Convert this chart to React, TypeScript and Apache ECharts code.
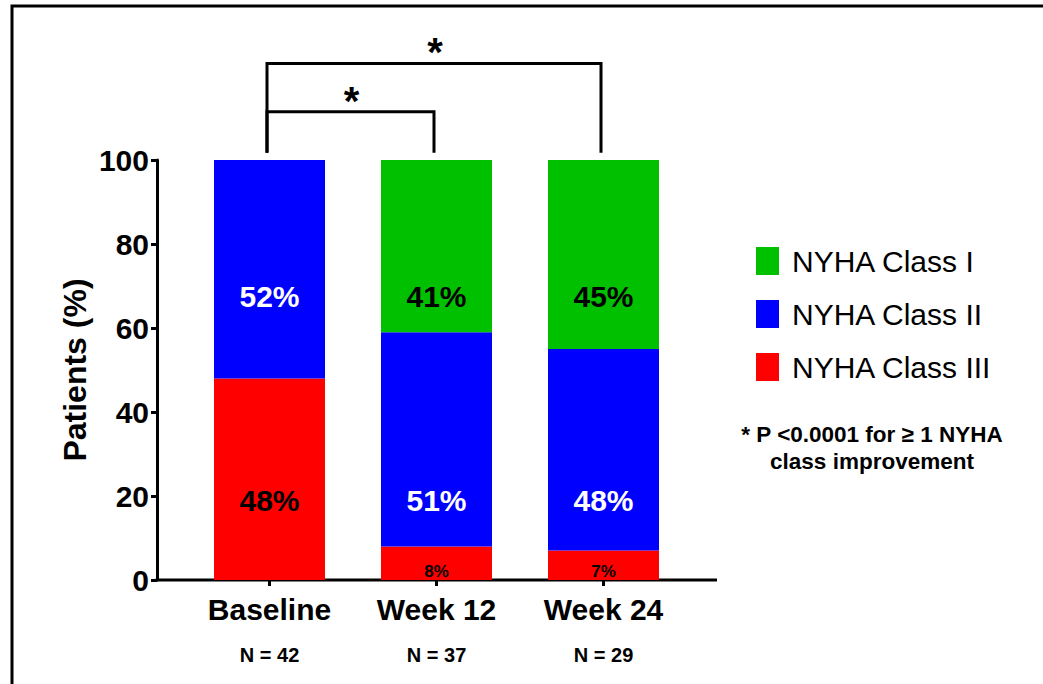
import React, { useEffect, useRef } from "react";
import * as echarts from "echarts";

const categories = ["Baseline", "Week 12", "Week 24"];
const sampleSizes = ["N = 42", "N = 37", "N = 29"];
const seriesNames = ["NYHA Class I", "NYHA Class II", "NYHA Class III"];
const classI = [0, 41, 45];
const classII = [52, 51, 48];
const classIII = [48, 8, 7];
// level (in % units) at which each segment's label is written
const labelAtI = [0, 67.5, 67.5];
const labelAtII = [67.5, 19, 19];
const labelAtIII = [19, 2, 2];
const yMin = 0;
const yMax = 100;
const yStep = 20;
const comparisons = [
  { from: 0, to: 1, top: 111.5, label: "*" },
  { from: 0, to: 2, top: 123, label: "*" },
];
const footnote = ["* P <0.0001 for \u2265 1 NYHA", "class improvement"];

const COLORS = ["#00c000", "#0000ff", "#ff0000"];
const FONT = "'Liberation Sans', Arial, Helvetica, sans-serif";

export default function App() {
  const ref = useRef<HTMLDivElement>(null);

  useEffect(() => {
    if (!ref.current) return;
    const chart = echarts.init(ref.current, undefined, { renderer: "svg" });
    const gridTop = 160;
    const gridHeight = 420;
    const pxPerUnit = gridHeight / (yMax - yMin);

    const makeData = (vals: number[], bases: number[], at: number[], textColor: string) =>
      vals.map((v, i) => {
        const center = bases[i] + v / 2;
        const dy = (center - at[i]) * pxPerUnit;
        return {
          value: v,
          label: {
            show: v > 0,
            position: "inside",
            offset: [0, dy],
            formatter: v + "%",
            color: textColor,
            fontSize: v < 10 ? 17 : 30,
            fontWeight: "bold",
            fontFamily: FONT,
          },
        };
      });

    const baseIII = classIII.map(() => 0);
    const baseII = classIII.slice();
    const baseI = classIII.map((v, i) => v + classII[i]);

    const seriesCommon = {
      type: "bar",
      stack: "total",
      barWidth: 111,
    };

    chart.setOption({
      animation: false,
      textStyle: { fontFamily: FONT },
      grid: { left: 186, top: gridTop, width: 501, height: gridHeight },
      legend: {
        data: seriesNames,
        orient: "vertical",
        left: 756,
        top: 246,
        padding: 0,
        icon: "rect",
        itemWidth: 23,
        itemHeight: 28,
        itemGap: 23,
        selectedMode: false,
        textStyle: {
          fontSize: 30,
          color: "#000",
          fontFamily: FONT,
          padding: [0, 0, 0, 8],
        },
      },
      xAxis: {
        type: "category",
        data: categories,
        axisLine: { show: false },
        axisTick: {
          show: true,
          alignWithLabel: true,
          length: 6,
          lineStyle: { color: "#000", width: 3 },
        },
        axisLabel: {
          margin: 9,
          formatter: (v: string, i: number) => `{a|${v}}\n{b|${sampleSizes[i]}}`,
          rich: {
            a: { fontSize: 30, fontWeight: "bold", color: "#000", lineHeight: 40, fontFamily: FONT },
            b: { fontSize: 20, fontWeight: "bold", color: "#000", lineHeight: 52, fontFamily: FONT },
          },
        },
      },
      yAxis: {
        type: "value",
        min: yMin,
        max: yMax,
        interval: yStep,
        offset: 29,
        name: "Patients (%)",
        nameLocation: "middle",
        nameGap: 66,
        nameTextStyle: { fontSize: 32, fontWeight: "bold", color: "#000", fontFamily: FONT },
        splitLine: { show: false },
        axisLine: { show: true, lineStyle: { color: "#000", width: 3 } },
        axisTick: { show: true, length: 6, lineStyle: { color: "#000", width: 3 } },
        axisLabel: { margin: 8, fontSize: 30, fontWeight: "bold", color: "#000", fontFamily: FONT },
      },
      series: [
        {
          ...seriesCommon,
          name: seriesNames[2],
          itemStyle: { color: COLORS[2] },
          data: makeData(classIII, baseIII, labelAtIII, "#000"),
        },
        {
          ...seriesCommon,
          name: seriesNames[1],
          itemStyle: { color: COLORS[1] },
          data: makeData(classII, baseII, labelAtII, "#fff"),
        },
        {
          ...seriesCommon,
          name: seriesNames[0],
          itemStyle: { color: COLORS[0] },
          data: makeData(classI, baseI, labelAtI, "#000"),
        },
      ],
    });

    const px = (c: number, v: number) =>
      chart.convertToPixel({ xAxisIndex: 0, yAxisIndex: 0 }, [c, v]) as number[];

    const graphics: any[] = [];
    graphics.push({
      type: "rect",
      silent: true,
      shape: { x: 12, y: 6, width: 1100, height: 760 },
      style: { fill: "none", stroke: "#000", lineWidth: 3 },
    });
    const origin = px(0, yMin);
    const yAxisX = 157;
    graphics.push({
      type: "line",
      silent: true,
      shape: { x1: yAxisX - 1.5, y1: origin[1], x2: 717, y2: origin[1] },
      style: { stroke: "#000", lineWidth: 3 },
    });
    comparisons.forEach((cmp) => {
      const a = px(cmp.from, 101.7);
      const b = px(cmp.to, 101.7);
      const t = px(cmp.from, cmp.top);
      const x1 = a[0] - 2.5;
      const x2 = b[0] - 2.5;
      graphics.push({
        type: "polyline",
        silent: true,
        shape: { points: [[x1, a[1]], [x1, t[1]], [x2, t[1]], [x2, b[1]]] },
        style: { stroke: "#000", lineWidth: 3, fill: "none" },
      });
      graphics.push({
        type: "text",
        silent: true,
        x: (x1 + x2) / 2 + 1,
        y: t[1] - 11,
        style: {
          text: cmp.label,
          fontSize: 40,
          fontWeight: "bold",
          fontFamily: FONT,
          fill: "#000",
          textAlign: "center",
          textVerticalAlign: "middle",
        },
      });
    });
    footnote.forEach((line, i) => {
      graphics.push({
        type: "text",
        silent: true,
        x: 872,
        y: 434 + i * 27,
        style: {
          text: line,
          fontSize: 22.5,
          fontWeight: "bold",
          fontFamily: FONT,
          fill: "#000",
          textAlign: "center",
          textVerticalAlign: "middle",
        },
      });
    });
    chart.setOption({ graphic: graphics });

    return () => chart.dispose();
  }, []);

  return (
    <div
      ref={ref}
      style={{ position: "fixed", left: 0, top: 0, width: 1043, height: 684, background: "#fff" }}
    />
  );
}
